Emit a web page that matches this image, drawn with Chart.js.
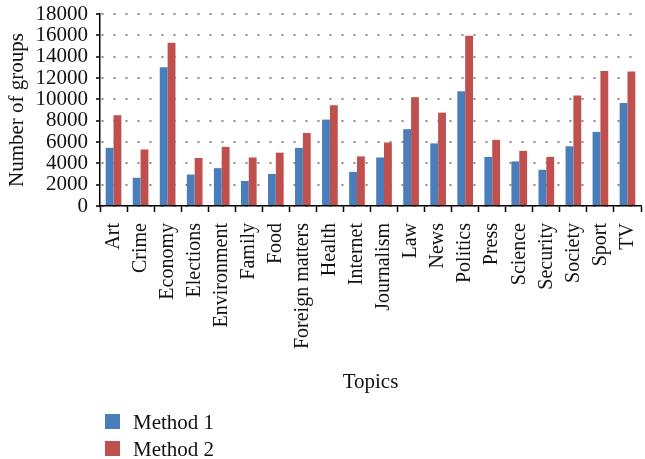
<!DOCTYPE html>
<html>
<head>
<meta charset="utf-8">
<script src="https://cdn.jsdelivr.net/npm/chart.js@4/dist/chart.umd.min.js"></script>
<style>
  html, body { margin: 0; padding: 0; background: #fff; }
  #wrap { width: 645px; height: 459px; }
</style>
</head>
<body>
<div id="wrap"><canvas id="topicChart" width="645" height="459"></canvas></div>
<script>
const topics = ['Art', 'Crime', 'Economy', 'Elections', 'Environment', 'Family', 'Food',
    'Foreign matters', 'Health', 'Internet', 'Journalism', 'Law', 'News', 'Politics',
    'Press', 'Science', 'Security', 'Society', 'Sport', 'TV'];
const method1 = [5450, 2650, 13000, 2950, 3550, 2350, 3000, 5450, 8100, 3200, 4550,
    7200, 5870, 10750, 4600, 4180, 3400, 5600, 6950, 9650];
const method2 = [8500, 5300, 15300, 4500, 5550, 4550, 5000, 6850, 9450, 4650, 5950,
    10200, 8750, 15950, 6200, 5170, 4600, 10350, 12650, 12600];
const seriesNames = ['Method 1', 'Method 2'];
const yTicks = [0, 2000, 4000, 6000, 8000, 10000, 12000, 14000, 16000, 18000];

const serif = '"Liberation Serif", "DejaVu Serif", serif';

// legend drawn as a vertical list under the axis title
const stackedLegend = {
    id: 'stackedLegend',
    afterDraw(chart) {
        const ctx = chart.ctx;
        ctx.save();
        ctx.font = '21px ' + serif;
        ctx.textBaseline = 'middle';
        chart.data.datasets.forEach((ds, i) => {
            const y = 414 + i * 27;
            ctx.fillStyle = ds.backgroundColor;
            ctx.fillRect(105, y, 15, 15);
            ctx.fillStyle = '#111';
            ctx.fillText(ds.label, 133, y + 9);
        });
        ctx.restore();
    }
};

const ctx = document.getElementById('topicChart').getContext('2d');
const topicChart = new Chart(ctx, {
    type: 'bar',
    data: {
        labels: topics,
        datasets: [
            { label: seriesNames[0], data: method1, backgroundColor: '#4a7ebb' },
            { label: seriesNames[1], data: method2, backgroundColor: '#c0504d' }
        ]
    },
    options: {
        responsive: false,
        animation: false,
        layout: { padding: { top: 14, right: 4, bottom: 60, left: 0 } },
        datasets: { bar: { categoryPercentage: 0.58, barPercentage: 1.0 } },
        plugins: {
            legend: { display: false },
            tooltip: { enabled: false }
        },
        scales: {
            x: {
                grid: {
                    drawOnChartArea: false,
                    drawTicks: true,
                    tickLength: 6,
                    tickColor: '#000',
                    tickWidth: 1.5
                },
                border: { color: '#000', width: 1.5 },
                ticks: {
                    color: '#111',
                    font: { family: serif, size: 20 },
                    minRotation: 90,
                    maxRotation: 90,
                    autoSkip: false,
                    padding: 11
                },
                title: {
                    display: true,
                    text: 'Topics',
                    color: '#111',
                    font: { family: serif, size: 21 },
                    padding: { top: 4, bottom: 4 }
                },
                afterFit(scale) {
                    scale.height = 193;
                    scale.paddingLeft = 0;
                    scale.paddingRight = 0;
                }
            },
            y: {
                min: yTicks[0],
                max: yTicks[yTicks.length - 1],
                afterBuildTicks(scale) {
                    scale.ticks = yTicks.map(v => ({ value: v }));
                },
                grid: {
                    color: '#8a8a8a',
                    lineWidth: 2,
                    tickLength: 4,
                    tickColor: '#000',
                    tickWidth: 1.5,
                    tickBorderDash: []
                },
                border: { color: '#000', width: 1.5, dash: [2, 10], dashOffset: 11 },
                ticks: {
                    color: '#111',
                    font: { family: serif, size: 21 },
                    padding: 8,
                    autoSkip: false,
                    callback: v => String(v)
                },
                title: {
                    display: true,
                    text: 'Number of groups',
                    color: '#111',
                    font: { family: serif, size: 21 },
                    padding: { top: 5, bottom: 0 }
                },
                afterFit(scale) {
                    scale.width = 100;
                    scale.paddingTop = 0;
                    scale.paddingBottom = 0;
                }
            }
        }
    },
    plugins: [stackedLegend]
});
</script>
</body>
</html>
